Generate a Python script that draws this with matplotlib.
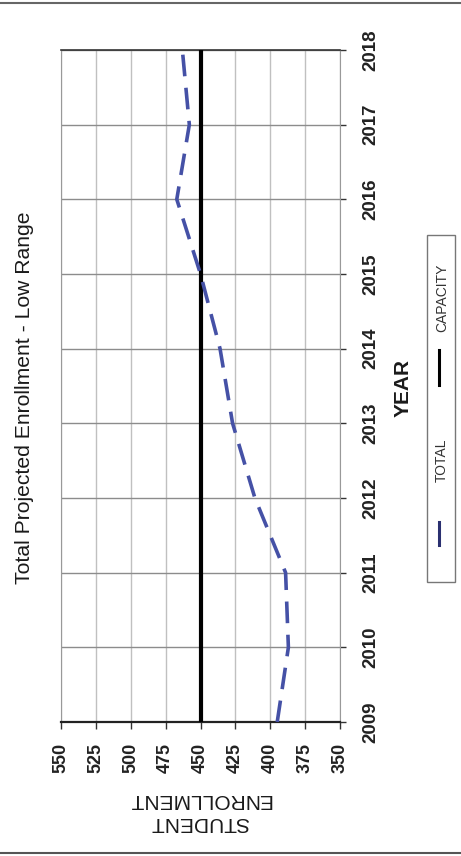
import matplotlib
matplotlib.use("Agg")
import matplotlib.pyplot as plt
from matplotlib.lines import Line2D
from matplotlib.patches import Rectangle

plt.rcParams['font.family'] = ['Liberation Sans', 'DejaVu Sans']

# ---- data ----
years = [2009, 2010, 2011, 2012, 2013, 2014, 2015, 2016, 2017, 2018]
total = [395, 387, 389, 411, 427, 436, 450, 467, 458, 463]
capacity = [450, 450, 450, 450, 450, 450, 450, 450, 450, 450]
enroll_ticks = [550, 525, 500, 475, 450, 425, 400, 375, 350]
title = "Total Projected Enrollment - Low Range"
xlabel = "YEAR"
ylabel = "STUDENT\nENROLLMENT"
legend_labels = ["TOTAL", "CAPACITY"]

W, H = 461, 856
fig = plt.figure(figsize=(W / 100, H / 100), dpi=100)
fig.patch.set_facecolor("white")

def fx(px):
    return px / W

def fy(py):
    return 1 - py / H

left, right, top, bottom = 61, 340, 50, 722
ax = fig.add_axes([fx(left), fy(bottom), fx(right - left), (bottom - top) / H])

# chart is rotated: enrollment runs horizontally (550 left -> 350 right), years vertically
ax.plot(capacity, years, color="black", lw=3.0, solid_capstyle="butt", zorder=3)
ax.plot(total, years, color="#4551a6", lw=2.6, dashes=(6, 3.2), zorder=4)

ax.set_xlim(550, 350)
ax.set_ylim(2009, 2018)
ax.set_xticks(enroll_ticks)
ax.set_xticklabels([str(v) for v in enroll_ticks], rotation=90, fontsize=13,
                   fontweight="bold", color="#222222")
ax.set_yticks(years)
ax.set_yticklabels([str(y) for y in years], rotation=90, fontsize=13.5,
                   fontweight="bold", color="#222222", va="center")
ax.yaxis.tick_right()
ax.tick_params(axis="x", direction="out", length=5, width=1, pad=10, colors="#333333")
ax.tick_params(axis="y", direction="out", length=4, width=1, pad=12, colors="#333333")
for lab in ax.get_xticklabels() + ax.get_yticklabels():
    lab.set_color("#222222")

ax.grid(axis="x", color="#c0c0c0", lw=1.0, zorder=0)
ax.grid(axis="y", color="#8c8c8c", lw=1.0, zorder=0)
ax.set_axisbelow(True)
ax.spines["left"].set_color("#999999")
ax.spines["right"].set_color("#999999")
ax.spines["top"].set_color("#333333")
ax.spines["bottom"].set_color("#222222")
ax.spines["bottom"].set_linewidth(1.6)
ax.spines["top"].set_linewidth(1.2)

# title (rotated)
fig.text(fx(25), fy(398), title, rotation=90, ha="center", va="center",
         fontsize=15.2, color="#1a1a1a")
# YEAR label (rotated)
fig.text(fx(403), fy(388), xlabel, rotation=90, ha="center", va="center",
         fontsize=15, fontweight="bold", color="#1a1a1a")
# enrollment label (upside down)
fig.text(fx(200), fy(811), ylabel, rotation=180, ha="center", va="center",
         fontsize=15, color="#1a1a1a", multialignment="center", linespacing=1.25)

# legend (rotated, drawn by hand)
fig.add_artist(Rectangle((fx(427), fy(582)), fx(455) - fx(427), fy(235) - fy(582),
                         transform=fig.transFigure, fill=False, edgecolor="#777777", lw=1.0))
fig.add_artist(Line2D([fx(439), fx(439)], [fy(545), fy(522)], transform=fig.transFigure,
                      color="#2a3070", lw=2.2))
fig.text(fx(442), fy(460), legend_labels[0], rotation=90, ha="center", va="center",
         fontsize=10, color="#333333")
fig.add_artist(Line2D([fx(439), fx(439)], [fy(385), fy(350)], transform=fig.transFigure,
                      color="black", lw=2.2))
fig.text(fx(442), fy(298), legend_labels[1], rotation=90, ha="center", va="center",
         fontsize=10, color="#333333")

# page border lines
fig.add_artist(Line2D([0, 1], [fy(3), fy(3)], transform=fig.transFigure, color="#666666", lw=1.5))
fig.add_artist(Line2D([0, 1], [fy(853), fy(853)], transform=fig.transFigure, color="#555555", lw=1.5))

fig.savefig("out.png", dpi=100, facecolor="white")
